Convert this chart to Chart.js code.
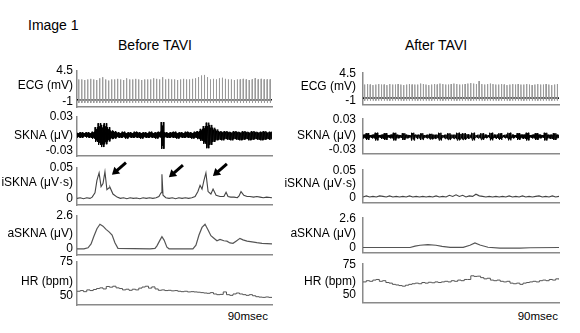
<!DOCTYPE html>
<html>
<head>
<meta charset="utf-8">
<script src="https://cdn.jsdelivr.net/npm/chart.js@4.4.1/dist/chart.umd.min.js"></script>
<style>
  body { margin: 0; width: 580px; height: 333px; background: #fff; position: relative; overflow: hidden;
         font-family: "Liberation Sans", Arial, sans-serif; color: #000; }
  canvas { position: absolute; }
  .txt { position: absolute; white-space: nowrap; }
</style>
</head>
<body>
<div class="txt" style="left:28px; top:17px; font-size:14px;">Image 1</div>
<div class="txt" style="left:95px; top:37px; width:120px; text-align:center; font-size:14px;">Before TAVI</div>
<div class="txt" style="left:376px; top:37px; width:120px; text-align:center; font-size:14px;">After TAVI</div>
<div class="txt" style="left:190px; top:310px; width:78px; text-align:right; font-size:11.5px;">90msec</div>
<div class="txt" style="left:480px; top:310px; width:78px; text-align:right; font-size:11.5px;">90msec</div>
<script>
// ---- data ----
const panelNames = ['ECG (mV)', 'SKNA (μV)', 'iSKNA (μV·s)', 'aSKNA (μV)', 'HR (bpm)'];
const tickValues = [[-1, 4.5], [-0.03, 0.03], [0, 0.05], [0, 2.6], [50, 75]];
const tickText = [['-1', '4.5'], ['-0.03', '0.03'], ['0', '0.05'], ['0', '2.6'], ['50', '75']];

// ECG: R-wave peak per beat (mV), baseline and trough
const ecgPeaksBefore = [3.0,3.0,2.9,3.0,3.1,3.0,2.9,3.2,3.4,3.0,2.8,3.0,3.0,3.1,3.0,2.9,3.2,3.0,3.0,3.1,
  3.0,2.9,3.0,3.0,3.0,3.2,3.1,3.0,3.4,3.0,3.1,3.0,3.0,2.9,3.0,3.1,3.0,3.0,3.1,3.2,
  3.4,3.7,3.8,3.4,3.0,3.1,3.0,3.2,3.3,3.1,3.0,3.0,2.9,3.0,3.0,3.1,3.0,2.9,3.0,3.2,
  3.0,3.1,3.0,3.0,3.0];
const ecgPeaksAfter = [2.2,2.3,2.2,2.1,2.2,2.3,2.2,2.2,2.1,2.3,2.2,2.2,2.3,2.2,2.1,2.2,2.3,2.2,2.2,2.2,
  2.4,2.3,2.2,2.1,2.2,2.3,2.2,2.4,2.3,2.2,2.2,2.3,2.4,2.3,2.2,2.2,2.3,2.4,2.5,2.4,
  2.3,2.9,2.3,2.2,2.3,2.4,2.3,2.2,2.2,2.3,2.2,2.1,2.2,2.3,2.2,2.3,2.2,2.2,2.3,2.2,
  2.1,2.2,2.3,2.2,2.2,2.3,2.2,2.1,2.2,2.3];
const ecgBaseBefore = -0.6, ecgTroughBefore = -1.15;
const ecgBaseAfter = -0.55, ecgTroughAfter = -1.05;

// SKNA: upper / lower envelope of the raw burst signal (μV)
const sknaUpBefore = [0.002,0.003,0.002,0.003,0.002,0.004,0.012,0.019,0.016,0.019,0.012,0.006,0.005,
  0.003,0.002,0.004,0.002,0.003,0.002,0.004,0.003,0.002,0.003,0.002,0.004,0.002,0.003,0.004,
  0.021,0.003,0.002,0.003,0.004,0.002,0.003,0.002,0.004,0.003,0.002,0.004,0.005,
  0.009,0.014,0.020,0.016,0.011,0.008,
  0.005,0.004,0.005,0.004,0.003,0.005,0.004,0.003,0.005,0.004,0.003,0.005,0.004,0.003,0.004,0.005,0.003,0.004];
const sknaLoBefore = [-0.006,-0.007,-0.005,-0.006,-0.007,-0.008,-0.014,-0.019,-0.023,-0.018,-0.013,-0.009,-0.008,
  -0.006,-0.007,-0.006,-0.008,-0.006,-0.007,-0.006,-0.007,-0.008,-0.006,-0.007,-0.006,-0.007,-0.008,-0.006,
  -0.026,-0.006,-0.007,-0.006,-0.007,-0.008,-0.006,-0.007,-0.006,-0.007,-0.008,-0.007,-0.009,
  -0.012,-0.017,-0.025,-0.019,-0.014,-0.011,
  -0.010,-0.011,-0.009,-0.010,-0.011,-0.009,-0.010,-0.011,-0.010,-0.009,-0.011,-0.010,-0.009,-0.010,-0.011,-0.010,-0.009,-0.010];
const sknaUpAfter = [-0.001,0.002,-0.002,-0.001,0.003,-0.002,-0.001,0.002,-0.002,-0.001,0.003,-0.001,-0.002,0.002,-0.001,
  -0.002,0.003,-0.001,-0.001,0.002,-0.002,-0.001,0.001,-0.001,-0.001,0.003,-0.002,-0.001,0.002,-0.001,-0.001,0.003,
  0.001,0.002,0.000,-0.001,0.003,-0.002,-0.001,0.002,-0.001,-0.002,0.003,-0.001,-0.001,0.002,-0.002,-0.001,0.003,
  -0.001,-0.002,0.002,-0.001,-0.001,0.003,-0.002,-0.001,0.002,-0.001,-0.002,0.003,-0.001,-0.001,0.002,-0.001];
const sknaLoAfter = [-0.008,-0.011,-0.007,-0.008,-0.012,-0.007,-0.009,-0.011,-0.007,-0.008,-0.012,-0.008,-0.007,-0.011,-0.008,
  -0.007,-0.012,-0.008,-0.009,-0.011,-0.007,-0.008,-0.010,-0.009,-0.008,-0.012,-0.007,-0.009,-0.011,-0.008,-0.009,-0.012,
  -0.010,-0.011,-0.009,-0.008,-0.012,-0.007,-0.008,-0.011,-0.008,-0.007,-0.012,-0.008,-0.009,-0.011,-0.007,-0.008,-0.012,
  -0.008,-0.007,-0.011,-0.008,-0.009,-0.012,-0.007,-0.008,-0.011,-0.008,-0.007,-0.012,-0.008,-0.009,-0.011,-0.008];

// iSKNA (μV·s), time in seconds (0-90)
const iskTimeBefore = [0,1.5,3,4.5,6,7, 8.3,9.2,10.2,11.1,12,12.9,13.8,14.8,15.2,16.6,18.5,
  20,21.5,23,24.5,26,27.5,29,30.5,32,33.5,35,36.5, 37.8,38.8,39.2,39.7,41,
  42.5,44,45.5,47,48.5,50,51.5,53,
  54.5,55.8,56.8,57.7,58.6,59.5,60.5,61.8,62.8,64.2,66,67.8,68.8,69.7,71,72.5,74,74.8,75.7,77,78.5,79.8,81.5,83,84.5,86,87.5,90];
const iskValBefore = [0.001,0.002,0.0005,0.002,0.001,0.003, 0.01,0.03,0.042,0.02,0.025,0.044,0.015,0.018,0.019,0.008,0.003,
  0.001,0.002,0.0005,0.002,0.001,0.0015,0.0005,0.002,0.001,0.002,0.001,0.002, 0.004,0.01,0.040,0.006,0.002,
  0.001,0.002,0.0005,0.002,0.001,0.002,0.001,0.002,
  0.004,0.012,0.022,0.016,0.03,0.042,0.012,0.008,0.016,0.006,0.004,0.004,0.011,0.004,0.003,0.003,0.002,0.005,0.012,0.006,0.004,0.004,0.003,0.004,0.003,0.002,0.003,0.002];
const iskValAfter = [0.001,0.003,0.001,0.002,0.001,0.003,0.002,0.001,0.003,0.001,
  0.002,0.001,0.002,0.001,0.003,0.001,0.002,0.001,0.002,0.001,
  0.002,0.001,0.003,0.001,0.002,0.001,0.004,0.002,0.005,0.002,
  0.004,0.001,0.003,0.002,0.006,0.003,0.002,0.001,0.002,0.001,
  0.002,0.001,0.002,0.001,0.003,0.001,0.002,0.001,0.003,0.001,
  0.002,0.001,0.002,0.003,0.001,0.002,0.001,0.003,0.001,0.002];
// arrows point at these iSKNA peaks (time, value)
const arrowAt = [[12.9, 0.044], [39.2, 0.040], [59.5, 0.042]];

// aSKNA (μV)
const askTimeBefore = [0,3.2,5.1,6.5,7.8,9.2,10.6,12,13.4,14.8,16.2,17.5,18.9,
  33.7,36,36.9,38.3,39.2,40.2,41.5,42.5,
  53.5,54.9,56.3,57.7,59.1,60.5,61.8,63.2,64.6,66,67.8,69.2,70.6,72,73.4,75.2,76.6,78.5,80.8,83,85.4,90];
const askValBefore = [0.02,0.02,0.1,0.4,1.0,1.6,1.95,1.8,1.55,1.35,1.1,0.5,0.05,
  0.02,0.05,0.25,0.7,0.97,0.7,0.15,0.02,
  0.02,0.3,1.1,1.7,1.95,1.5,1.05,0.85,0.65,0.75,0.65,0.62,0.48,0.45,0.62,0.84,0.72,0.62,0.57,0.5,0.45,0.4];
const askTimeAfter = [0,21.6,23.9,26.2,29.8,33.5,36.3,40,46,49.1,51.4,53.7,57.4,62.9,72.1,76.7,90];
const askValAfter = [0,0,0.12,0.2,0.25,0.2,0.1,0.02,0.02,0.2,0.4,0.22,0.02,-0.05,-0.06,-0.02,0];

// HR (bpm), one value per 1.5 s
const hrBefore = [53.5,54,53.2,54.5,54,54.8,55.5,56,55.2,57,56.5,57.2,56,55.5,54.5,55,54.2,55,54.5,55.8,
  56.6,57.2,55.8,56.7,55.2,54.2,54.5,54,54.2,53.8,54,53.5,53.2,53.5,53,53.2,53,52.8,52.5,52.2,
  52,52.5,51.5,51,51.2,53,51,50.5,51.5,52.2,51.5,51,50.5,51,50.2,49.5,49.2,49,49.3,49,49.2];
const hrAfter = [60.5,61.5,61,62,62.5,61,61.5,60,59.5,58.5,58,57.5,57,57.8,58.5,59,59.5,59,60,59.5,
  60.2,59.8,60.5,60,60.5,61,60.5,61.5,61,62,61.5,62.5,62.5,65.5,65,65.2,64,63,63.5,62,
  61.5,62,61,60.5,61,59.5,59,59.5,58.5,59.5,60,60.5,61,60.5,61.5,62,61.5,62.5,62,63,62.5];

// ---- layout ----
const FONT = '"Liberation Sans", Arial, sans-serif';
const AXIS_COLOR = '#8a8a8a';
const PAD = 12;
const ROWS = [
  { top: 71,  bottom: 107, min: -1.89,   max: 4.5,  nameAt: 1.84 },
  { top: 117, bottom: 156, min: -0.0388, max: 0.03, nameAt: -0.003 },
  { top: 168, bottom: 205, min: -0.0097, max: 0.05, nameAt: 0.026 },
  { top: 216, bottom: 255, min: -0.47,   max: 2.6,  nameAt: 1.2 },
  { top: 262, bottom: 305, min: 43.4,    max: 75,   nameAt: 60.5 }
];
const COLS = [
  { left: 0,   axis: 77,  right: 272, pad: 4 },
  { left: 272, axis: 363, right: 559, pad: 7 }
];

// build helpers
function ecgPoints(peaks, base, trough) {
  const pts = [];
  peaks.forEach((p, i) => {
    pts.push({ x: i, y: base }, { x: i + 0.06, y: p }, { x: i + 0.14, y: trough }, { x: i + 0.22, y: base });
  });
  return pts;
}
// dense up/down strokes inside each envelope segment
function envelopePoints(up, lo) {
  const pts = [];
  up.forEach((u, i) => {
    pts.push({ x: i, y: u }, { x: i + 0.2, y: lo[i] }, { x: i + 0.4, y: u * 0.7 },
             { x: i + 0.6, y: lo[i] * 0.8 }, { x: i + 0.8, y: u });
    pts.push({ x: i + 0.9, y: lo[i] });
  });
  return pts;
}
function pairPoints(xs, ys) {
  return xs.map((x, i) => ({ x: x, y: ys[i] }));
}
function indexPoints(ys) {
  return ys.map((y, i) => ({ x: i, y: y }));
}

const arrowPlugin = {
  id: 'arrows',
  afterDatasetsDraw(chart) {
    const ctx = chart.ctx;
    const xs = chart.scales.x, ys = chart.scales.y;
    ctx.save();
    ctx.fillStyle = '#000';
    ctx.strokeStyle = '#000';
    ctx.lineWidth = 3;
    arrowAt.forEach(a => {
      const tipX = xs.getPixelForValue(a[0]) + 7;
      const tipY = ys.getPixelForValue(a[1]) + 3;
      const tailX = tipX + 14, tailY = tipY - 12;
      const len = Math.hypot(tailX - tipX, tailY - tipY);
      const dx = (tipX - tailX) / len, dy = (tipY - tailY) / len;
      const headLen = 7, headW = 4.5;
      const bx = tipX - dx * headLen, by = tipY - dy * headLen;
      ctx.beginPath();
      ctx.moveTo(tailX, tailY);
      ctx.lineTo(bx + dx, by + dy);
      ctx.stroke();
      ctx.beginPath();
      ctx.moveTo(tipX, tipY);
      ctx.lineTo(bx - dy * headW, by + dx * headW);
      ctx.lineTo(bx + dy * headW, by - dx * headW);
      ctx.closePath();
      ctx.fill();
    });
    ctx.restore();
  }
};

function makePanel(c, r, datasets, xMin, xMax, plugins) {
  const col = COLS[c], row = ROWS[r];
  const canvas = document.createElement('canvas');
  const w = col.right + 3 - col.left;
  const h = row.bottom - row.top + 2 * PAD;
  canvas.width = w;
  canvas.height = h;
  canvas.style.left = col.left + 'px';
  canvas.style.top = (row.top - PAD) + 'px';
  canvas.style.width = w + 'px';
  canvas.style.height = h + 'px';
  document.body.appendChild(canvas);

  const tv = [tickValues[r][0], row.nameAt, tickValues[r][1]];
  const tt = [tickText[r][0], panelNames[r], tickText[r][1]];

  new Chart(canvas.getContext('2d'), {
    type: 'line',
    data: { datasets: datasets },
    options: {
      responsive: false,
      animation: false,
      layout: { autoPadding: false, padding: { top: PAD, bottom: PAD, left: 0, right: 3 } },
      plugins: { legend: { display: false }, tooltip: { enabled: false } },
      elements: { point: { radius: 0 } },
      scales: {
        x: {
          type: 'linear', min: xMin, max: xMax,
          ticks: { display: false },
          grid: { display: false, drawTicks: false },
          border: { color: AXIS_COLOR, width: 1.5 }
        },
        y: {
          min: row.min, max: row.max,
          afterBuildTicks: s => { s.ticks = tv.map(v => ({ value: v })); },
          afterFit: s => { s.width = col.axis - col.left; },
          ticks: {
            autoSkip: false, padding: col.pad, color: '#000',
            font: { family: FONT, size: 12 },
            callback: (v, i) => tt[i]
          },
          grid: { display: false, drawTicks: false },
          border: { color: AXIS_COLOR, width: 1.5 }
        }
      }
    },
    plugins: plugins || []
  });
}

function line(data, color, width, extra) {
  return Object.assign({ data: data, borderColor: color, borderWidth: width, fill: false, tension: 0 }, extra || {});
}

// Before TAVI
makePanel(0, 0, [
  line(ecgPoints(ecgPeaksBefore, ecgBaseBefore, ecgTroughBefore), '#9a9a9a', 1),
  line([{ x: -0.5, y: ecgBaseBefore }, { x: ecgPeaksBefore.length, y: ecgBaseBefore }], '#111', 1.6)
], -0.5, ecgPeaksBefore.length - 0.3);
makePanel(0, 1, [line(envelopePoints(sknaUpBefore, sknaLoBefore), '#000', 1)], 0, sknaUpBefore.length - 0.1);
makePanel(0, 2, [line(pairPoints(iskTimeBefore, iskValBefore), '#444', 1.1)], 0, 90, [arrowPlugin]);
makePanel(0, 3, [line(pairPoints(askTimeBefore, askValBefore), '#555', 1.2)], 0, 90);
makePanel(0, 4, [line(indexPoints(hrBefore), '#555', 1, { stepped: true })], 0, hrBefore.length - 1);

// After TAVI
makePanel(1, 0, [
  line(ecgPoints(ecgPeaksAfter, ecgBaseAfter, ecgTroughAfter), '#9a9a9a', 1),
  line([{ x: -0.5, y: ecgBaseAfter }, { x: ecgPeaksAfter.length, y: ecgBaseAfter }], '#111', 1.6)
], -0.5, ecgPeaksAfter.length - 0.3);
makePanel(1, 1, [line(envelopePoints(sknaUpAfter, sknaLoAfter), '#000', 1)], 0, sknaUpAfter.length - 0.1);
makePanel(1, 2, [line(indexPoints(iskValAfter), '#444', 1.1)], 0, iskValAfter.length - 1);
makePanel(1, 3, [line(pairPoints(askTimeAfter, askValAfter), '#555', 1.2)], 0, 90);
makePanel(1, 4, [line(indexPoints(hrAfter), '#555', 1, { stepped: true })], 0, hrAfter.length - 1);
</script>
</body>
</html>
